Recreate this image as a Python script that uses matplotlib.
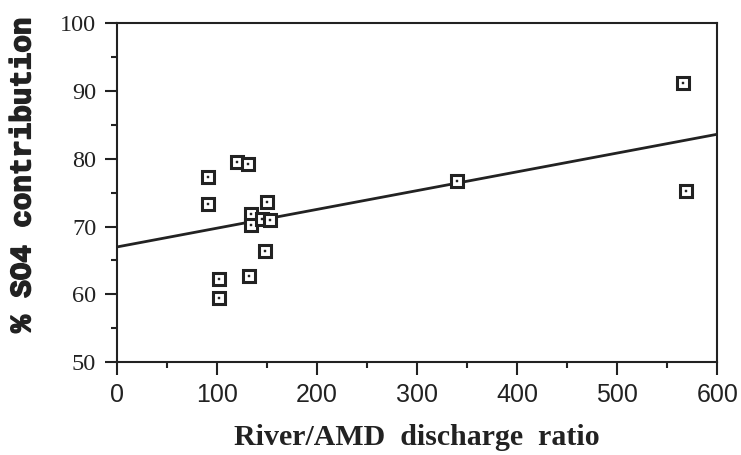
import numpy as np
import matplotlib
matplotlib.use("Agg")
import matplotlib.pyplot as plt
import matplotlib.patheffects as pe
from matplotlib.ticker import MultipleLocator

# River/AMD discharge ratio vs % SO4 contribution
ratio = [91, 91, 120, 131, 150, 134, 134, 145, 153, 148, 102, 132, 102, 340, 566, 569]
so4_pct = [77.3, 73.3, 79.6, 79.3, 73.7, 71.8, 70.2, 71.1, 71.0, 66.4, 62.2, 62.7, 59.4, 76.7, 91.2, 75.2]

# fitted line
fit_intercept = 67.0
fit_slope = 0.0277

ink = "#222222"

fig = plt.figure(figsize=(7.41, 4.55), dpi=100)
ax = fig.add_axes([0.158, 0.204, 0.810, 0.745])

xs = np.array([0, 600])
ax.plot(xs, fit_intercept + fit_slope * xs, color=ink, lw=2.0, zorder=2)

ax.plot(ratio, so4_pct, ls="none", marker="s", ms=8.5, mfc="white",
        mec=ink, mew=2.2, zorder=3)
ax.plot(ratio, so4_pct, ls="none", marker="s", ms=1.8, mfc=ink,
        mec=ink, mew=0.3, zorder=4)

ax.set_xlim(0, 600)
ax.set_ylim(50, 100)
ax.xaxis.set_major_locator(MultipleLocator(100))
ax.xaxis.set_minor_locator(MultipleLocator(50))
ax.yaxis.set_major_locator(MultipleLocator(10))
ax.yaxis.set_minor_locator(MultipleLocator(5))

for s in ax.spines.values():
    s.set_linewidth(1.5)
    s.set_color(ink)

ax.tick_params(which="both", direction="out", color=ink, width=1.5)
ax.tick_params(which="major", length=9)
ax.tick_params(which="minor", length=4.5)
ax.tick_params(axis="x", which="both", top=False)
ax.tick_params(axis="y", which="both", right=False)
ax.tick_params(axis="x", which="major", pad=6)
ax.tick_params(axis="y", which="major", pad=6)

for lab in ax.get_xticklabels():
    lab.set_fontfamily("Liberation Sans")
    lab.set_fontsize(18)
    lab.set_color(ink)
for lab in ax.get_yticklabels():
    lab.set_fontfamily("Liberation Serif")
    lab.set_fontsize(17.5)
    lab.set_color(ink)

ax.set_xlabel("River/AMD  discharge  ratio", family="Liberation Serif",
              fontsize=21.5, fontweight="bold", color=ink, labelpad=12)
fig.text(0.030, 0.615, "% SO4 contribution", rotation=90, ha="center",
         va="center", family="Liberation Mono", fontsize=21,
         fontweight="bold", color=ink,
         path_effects=[pe.withStroke(linewidth=1.2, foreground=ink)])

fig.savefig("out.png", dpi=100)
